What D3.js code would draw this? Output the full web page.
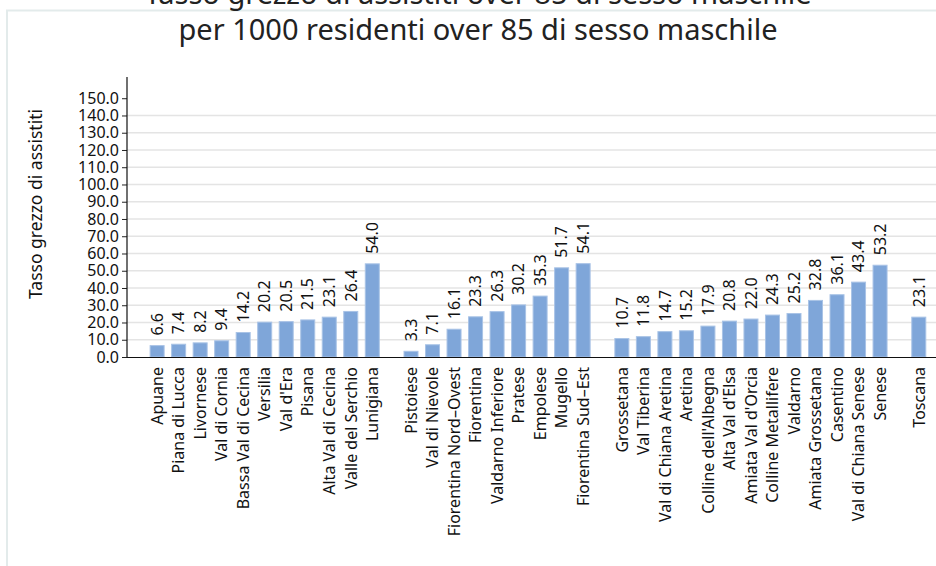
<!DOCTYPE html>
<html>
<head>
<meta charset="utf-8">
<script src="https://cdn.jsdelivr.net/npm/d3@7"></script>
<style>
  html, body { margin: 0; padding: 0; background: #fff; }
  svg { display: block; font-family: "Noto Sans", sans-serif; }
</style>
</head>
<body>
<svg id="chart" width="936" height="566"></svg>
<script>
// Zone distretto, grouped by Area Vasta (Nord-Ovest, Centro, Sud-Est) plus regional total
const nordOvestNames = ["Apuane", "Piana di Lucca", "Livornese", "Val di Cornia", "Bassa Val di Cecina",
  "Versilia", "Val d'Era", "Pisana", "Alta Val di Cecina", "Valle del Serchio", "Lunigiana"];
const nordOvestRates = [6.6, 7.4, 8.2, 9.4, 14.2, 20.2, 20.5, 21.5, 23.1, 26.4, 54.0];

const centroNames = ["Pistoiese", "Val di Nievole", "Fiorentina Nord–Ovest", "Fiorentina",
  "Valdarno Inferiore", "Pratese", "Empolese", "Mugello", "Fiorentina Sud–Est"];
const centroRates = [3.3, 7.1, 16.1, 23.3, 26.3, 30.2, 35.3, 51.7, 54.1];

const sudEstNames = ["Grossetana", "Val Tiberina", "Val di Chiana Aretina", "Aretina",
  "Colline dell'Albegna", "Alta Val d'Elsa", "Amiata Val d'Orcia", "Colline Metallifere",
  "Valdarno", "Amiata Grossetana", "Casentino", "Val di Chiana Senese", "Senese"];
const sudEstRates = [10.7, 11.8, 14.7, 15.2, 17.9, 20.8, 22.0, 24.3, 25.2, 32.8, 36.1, 43.4, 53.2];

const regionNames = ["Toscana"];
const regionRates = [23.1];

const yTicks = [0, 10, 20, 30, 40, 50, 60, 70, 80, 90, 100, 110, 120, 130, 140, 150];

const titleLines = ["Tasso grezzo di assistiti over 85 di sesso maschile",
  "per 1000 residenti over 85 di sesso maschile"];
const yTitle = "Tasso grezzo di assistiti";

// Build rows; each group is followed by a narrower empty gap
const groups = [
  [nordOvestNames, nordOvestRates],
  [centroNames, centroRates],
  [sudEstNames, sudEstRates],
  [regionNames, regionRates]
];
const gapSlots = 0.8;
const rows = [];
let slot = 0;
groups.forEach(([names, rates]) => {
  names.forEach((name, i) => {
    rows.push({ name, value: rates[i], pos: slot });
    slot += 1;
  });
  slot += gapSlots;
});

const svg = d3.select("#chart");
const W = 936, H = 566;
const plot = { left: 127, right: 936, top: 77, bottom: 357 };
const labelSize = 16;

// frame
svg.append("rect")
  .attr("x", 7).attr("y", 10.5)
  .attr("width", W + 20).attr("height", H + 20)
  .attr("fill", "none")
  .attr("stroke", "#e3ebeb")
  .attr("stroke-width", 2);

const x = d3.scaleLinear().domain([-1.4, 36.2]).range([plot.left, plot.right]);
const y = d3.scaleLinear().domain([0, 162.3]).range([plot.bottom, plot.top]);
const barW = 14;

// gridlines
svg.append("g")
  .selectAll("line")
  .data(yTicks.filter(t => t > 0 && t < 150))
  .join("line")
  .attr("x1", plot.left).attr("x2", plot.right)
  .attr("y1", d => y(d)).attr("y2", d => y(d))
  .attr("stroke", "#e4e4e4")
  .attr("stroke-width", 1.5);

// bars
svg.append("g")
  .selectAll("rect")
  .data(rows)
  .join("rect")
  .attr("x", d => x(d.pos) - barW / 2)
  .attr("y", d => y(d.value))
  .attr("width", barW)
  .attr("height", d => y(0) - y(d.value))
  .attr("fill", "#7fa6d9")
  .attr("stroke", "#a9c3e6")
  .attr("stroke-width", 1);

// value labels
svg.append("g")
  .selectAll("text")
  .data(rows)
  .join("text")
  .attr("transform", d => `translate(${x(d.pos)},${y(d.value) - 10}) rotate(-90)`)
  .attr("dy", "0.36em")
  .attr("text-anchor", "start")
  .attr("font-size", labelSize)
  .attr("fill", "#111")
  .text(d => d3.format(".1f")(d.value));

// category labels
svg.append("g")
  .selectAll("text")
  .data(rows)
  .join("text")
  .attr("transform", d => `translate(${x(d.pos)},${plot.bottom + 10}) rotate(-90)`)
  .attr("dy", "0.36em")
  .attr("text-anchor", "end")
  .attr("font-size", labelSize)
  .attr("fill", "#111")
  .text(d => d.name);

// y axis
const yAxis = d3.axisLeft(y).tickValues(yTicks).tickFormat(d3.format(".1f")).tickSize(5).tickPadding(3);
const gy = svg.append("g").attr("transform", `translate(${plot.left},0)`).call(yAxis);
gy.select(".domain").remove();
gy.selectAll("text").attr("font-size", 16).attr("font-family", "Noto Sans").attr("fill", "#111");
gy.selectAll("line").attr("stroke", "#222");
svg.append("line")
  .attr("x1", plot.left).attr("x2", plot.left)
  .attr("y1", plot.top).attr("y2", plot.bottom + 0.5)
  .attr("stroke", "#111").attr("stroke-width", 1.2);

// x baseline
svg.append("line")
  .attr("x1", plot.left).attr("x2", plot.right)
  .attr("y1", plot.bottom + 0.5).attr("y2", plot.bottom + 0.5)
  .attr("stroke", "#111").attr("stroke-width", 1.2);

// y title
svg.append("text")
  .attr("transform", `translate(42,204) rotate(-90)`)
  .attr("text-anchor", "middle")
  .attr("font-size", 17.5)
  .attr("fill", "#111")
  .text(yTitle);

// title
svg.append("g")
  .selectAll("text")
  .data(titleLines)
  .join("text")
  .attr("x", 478)
  .attr("y", (d, i) => 4 + i * 36)
  .attr("text-anchor", "middle")
  .attr("font-size", 29)
  .attr("fill", "#222")
  .text(d => d);
</script>
</body>
</html>
